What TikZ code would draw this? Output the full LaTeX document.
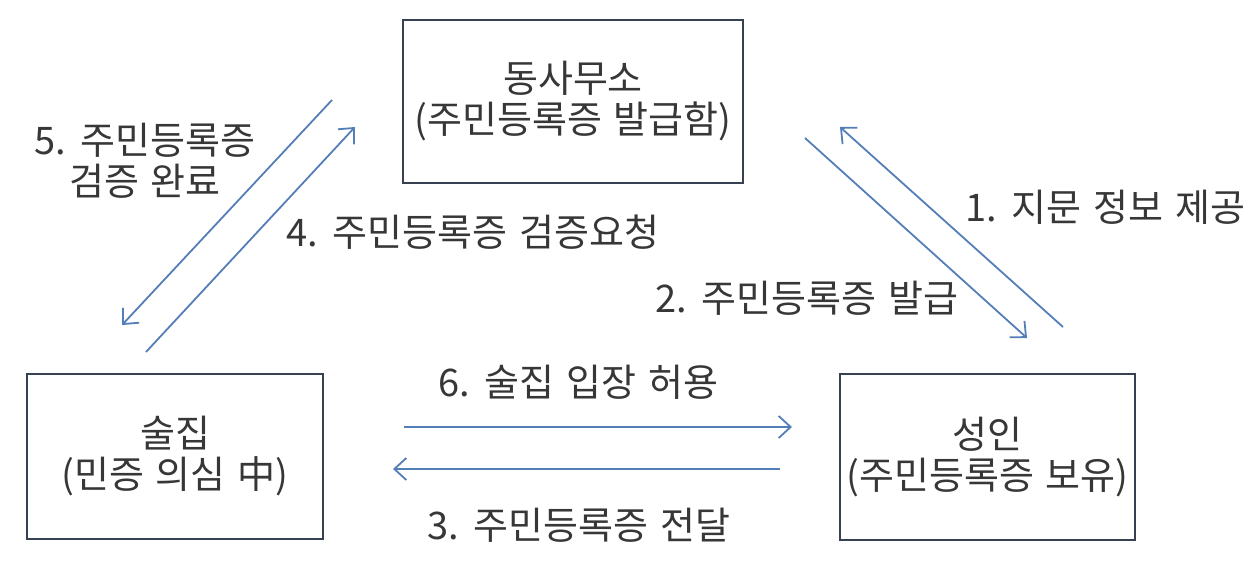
\documentclass[tikz,border=0pt]{standalone}
\usepackage{fontspec}
\setmainfont{Noto Sans CJK KR}[WordSpace=1.4]
\usepackage{tkz-euclide}
\usetikzlibrary{arrows.meta}
\definecolor{boxline}{RGB}{55,65,82}
\definecolor{arrowblue}{RGB}{84,126,184}
\definecolor{textgray}{RGB}{55,55,55}

\begin{document}
\begin{tikzpicture}[x=1pt, y=-1pt,
  every node/.style={text=textgray, font=\fontsize{38}{41}\selectfont},
  box/.style={draw=boxline, line width=2.8pt, align=center, inner sep=0pt},
  lbl/.style={align=center, inner sep=0pt},
  flow/.style={draw=arrowblue, line width=1.8pt, -{Straight Barb[length=12pt,width=22pt]}}]
\useasboundingbox (0,0) rectangle (1256,578);
\node[box, minimum width=340pt, minimum height=163pt] (office) at (573,101.5) {동사무소\\(주민등록증 발급함)};
\node[box, minimum width=296pt, minimum height=165pt] (bar) at (175,456.5) {술집\\(민증 의심 中)};
\node[box, minimum width=295pt, minimum height=166pt] (adult) at (987.5,457) {성인\\(주민등록증 보유)};
\tkzDefPoints{332/100/A5, 122/325/B5, 146/352/A4, 355/127/B4}
\tkzDefPoints{805/138/A2, 1027/338/B2, 1063/327/A1, 840/127/B1}
\tkzDefPoints{404/427/A6, 792/427/B6, 780/469/A3, 393/469/B3}
\draw[flow] (A1) -- (B1);
\draw[flow] (A2) -- (B2);
\draw[flow] (A3) -- (B3);
\draw[flow] (A4) -- (B4);
\draw[flow] (A5) -- (B5);
\draw[flow] (A6) -- (B6);
\node[lbl] (lab1) at (1105,207) {1. 지문 정보 제공};
\node[lbl] (lab2) at (807,298) {2. 주민등록증 발급};
\node[lbl] (lab3) at (579,525) {3. 주민등록증 전달};
\node[lbl] (lab4) at (473,232) {4. 주민등록증 검증요청};
\node[lbl] (lab5) at (145,161) {5. 주민등록증\\검증 완료};
\node[lbl] (lab6) at (578,382) {6. 술집 입장 허용};
\end{tikzpicture}
\end{document}
